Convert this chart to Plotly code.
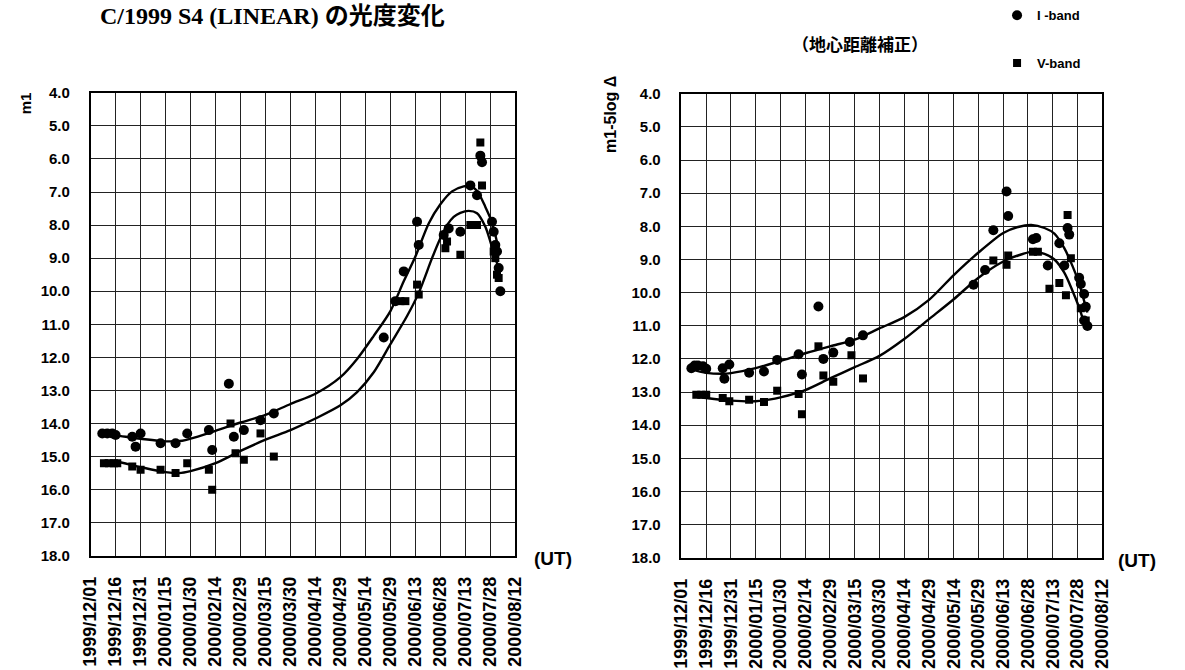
import plotly.graph_objects as go

W, H = 1185, 670

# ---------------- data ----------------
# Left panel: observed magnitude m1
left_i_dates = ["1999-12-08", "1999-12-11", "1999-12-14", "1999-12-16", "1999-12-26", "1999-12-28",
                "1999-12-31", "2000-01-12", "2000-01-21", "2000-01-28", "2000-02-10", "2000-02-12",
                "2000-02-22", "2000-02-25", "2000-03-02", "2000-03-12", "2000-03-20", "2000-05-25",
                "2000-06-01", "2000-06-06", "2000-06-14", "2000-06-15", "2000-06-30", "2000-07-03",
                "2000-07-10", "2000-07-16", "2000-07-20", "2000-07-22", "2000-07-23", "2000-07-29",
                "2000-07-30", "2000-07-31", "2000-08-01", "2000-08-02", "2000-08-03"]
left_i_mag = [14.3, 14.3, 14.3, 14.35, 14.4, 14.7,
              14.3, 14.6, 14.6, 14.3, 14.2, 14.8,
              12.8, 14.4, 14.2, 13.9, 13.7, 11.4,
              10.3, 9.4, 7.9, 8.6, 8.3, 8.1,
              8.2, 6.8, 7.1, 5.9, 6.1, 7.9,
              8.2, 8.6, 8.8, 9.3, 10.0]

left_v_dates = ["1999-12-09", "1999-12-12", "1999-12-15", "1999-12-17", "1999-12-26", "1999-12-31",
                "2000-01-12", "2000-01-21", "2000-01-28", "2000-02-10", "2000-02-12", "2000-02-23",
                "2000-02-26", "2000-03-02", "2000-03-12", "2000-03-20", "2000-06-04", "2000-06-07",
                "2000-06-14", "2000-06-15", "2000-06-30", "2000-07-01", "2000-07-02", "2000-07-10",
                "2000-07-16", "2000-07-18", "2000-07-20", "2000-07-22", "2000-07-23", "2000-07-30",
                "2000-07-31", "2000-08-01", "2000-08-02"]
left_v_mag = [15.2, 15.2, 15.2, 15.2, 15.3, 15.4,
              15.4, 15.5, 15.2, 15.4, 16.0, 14.0,
              14.9, 15.1, 14.3, 15.0, 10.3, 10.3,
              9.8, 10.1, 8.3, 8.7, 8.5, 8.9,
              8.0, 8.0, 8.0, 5.5, 6.8, 8.8,
              9.0, 9.5, 9.6]

left_i_fit_dates = ["1999-12-06", "1999-12-16", "1999-12-31", "2000-01-15", "2000-01-25", "2000-01-30",
                    "2000-02-14", "2000-02-29", "2000-03-15", "2000-03-30", "2000-04-14", "2000-04-29",
                    "2000-05-09", "2000-05-19", "2000-05-29", "2000-06-06", "2000-06-13", "2000-06-21",
                    "2000-06-28", "2000-07-05", "2000-07-12", "2000-07-16", "2000-07-20", "2000-07-25",
                    "2000-07-29", "2000-08-02"]
left_i_fit_mag = [14.3, 14.36, 14.46, 14.54, 14.52, 14.46,
                  14.22, 13.97, 13.74, 13.41, 13.1, 12.6,
                  12.05, 11.35, 10.6, 9.7, 8.95, 7.95,
                  7.37, 6.98, 6.83, 6.82, 6.96, 7.45,
                  7.92, 8.75]

left_v_fit_dates = ["1999-12-09", "1999-12-16", "1999-12-31", "2000-01-15", "2000-01-23", "2000-01-30",
                    "2000-02-14", "2000-02-29", "2000-03-15", "2000-03-30", "2000-04-14", "2000-04-29",
                    "2000-05-09", "2000-05-19", "2000-05-29", "2000-06-08", "2000-06-15", "2000-06-23",
                    "2000-06-28", "2000-07-02", "2000-07-06", "2000-07-10", "2000-07-15", "2000-07-20",
                    "2000-07-25", "2000-07-28", "2000-07-31", "2000-08-02"]
left_v_fit_mag = [15.13, 15.15, 15.32, 15.47, 15.5, 15.44,
                  15.2, 14.83, 14.49, 14.2, 13.85, 13.45,
                  13.05, 12.45, 11.6, 10.75, 10.05, 9.0,
                  8.4, 8.0, 7.75, 7.63, 7.57, 7.64,
                  8.05, 8.5, 9.0, 9.3]

# Right panel: distance-corrected magnitude m1 - 5 log Delta
right_i_dates = ["1999-12-07", "1999-12-09", "1999-12-11", "1999-12-14", "1999-12-16", "1999-12-26",
                 "1999-12-27", "1999-12-30", "2000-01-11", "2000-01-20", "2000-01-28", "2000-02-10",
                 "2000-02-12", "2000-02-22", "2000-02-25", "2000-03-02", "2000-03-12", "2000-03-20",
                 "2000-05-26", "2000-06-02", "2000-06-07", "2000-06-15", "2000-06-16", "2000-07-01",
                 "2000-07-03", "2000-07-10", "2000-07-17", "2000-07-20", "2000-07-22", "2000-07-23",
                 "2000-07-29", "2000-07-30", "2000-08-01", "2000-08-02", "2000-08-01", "2000-08-03"]
right_i_mag = [12.28, 12.2, 12.2, 12.22, 12.3, 12.28,
               12.6, 12.17, 12.42, 12.38, 12.03, 11.86,
               12.47, 10.42, 12.0, 11.81, 11.49, 11.29,
               9.76, 9.32, 8.12, 6.95, 7.69, 8.39,
               8.35, 9.18, 8.51, 9.18, 8.05, 8.25,
               9.55, 9.74, 10.04, 10.43, 10.84, 11.01]

right_v_dates = ["1999-12-10", "1999-12-13", "1999-12-16", "1999-12-26", "1999-12-30", "2000-01-11",
                 "2000-01-20", "2000-01-28", "2000-02-10", "2000-02-12", "2000-02-22", "2000-02-25",
                 "2000-03-02", "2000-03-13", "2000-03-20", "2000-06-07", "2000-06-15", "2000-06-16",
                 "2000-07-01", "2000-07-04", "2000-07-11", "2000-07-17", "2000-07-21", "2000-07-22",
                 "2000-07-24", "2000-07-30", "2000-08-02"]
right_v_mag = [13.08, 13.08, 13.08, 13.18, 13.28, 13.23,
               13.3, 12.96, 13.06, 13.67, 11.62, 12.5,
               12.69, 11.89, 12.59, 9.03, 9.16, 8.88,
               8.77, 8.77, 9.88, 9.71, 10.08, 7.66,
               8.96, 10.47, 10.84]

right_i_fit_dates = ["1999-12-06", "1999-12-16", "1999-12-26", "1999-12-31", "2000-01-15", "2000-01-30",
                     "2000-02-14", "2000-02-29", "2000-03-15", "2000-03-30", "2000-04-14", "2000-04-29",
                     "2000-05-14", "2000-05-29", "2000-06-13", "2000-06-22", "2000-06-30", "2000-07-08",
                     "2000-07-14", "2000-07-20", "2000-07-25", "2000-07-29", "2000-08-01", "2000-08-03"]
right_i_fit_mag = [12.3, 12.42, 12.45, 12.43, 12.28, 12.06,
                   11.83, 11.62, 11.42, 11.08, 10.74, 10.22,
                   9.47, 8.79, 8.2, 8.02, 7.96, 8.05,
                   8.22, 8.66, 9.2, 9.72, 10.25, 10.6]

right_v_fit_dates = ["1999-12-09", "1999-12-16", "1999-12-31", "2000-01-15", "2000-01-23", "2000-01-30",
                     "2000-02-14", "2000-02-29", "2000-03-15", "2000-03-30", "2000-04-14", "2000-04-29",
                     "2000-05-14", "2000-05-29", "2000-06-13", "2000-06-22", "2000-06-30", "2000-07-08",
                     "2000-07-14", "2000-07-20", "2000-07-25", "2000-07-29", "2000-08-01", "2000-08-03"]
right_v_fit_mag = [13.13, 13.18, 13.26, 13.28, 13.23, 13.16,
                   12.94, 12.59, 12.25, 11.91, 11.4, 10.8,
                   10.2, 9.55, 9.06, 8.88, 8.77, 8.83,
                   9.0, 9.4, 9.95, 10.45, 10.9, 11.1]

x_start, x_end = "1999-12-01", "2000-08-12"
y_top, y_bottom = 4, 18
tick_step_days = 15

title_text = "C/1999 S4 (LINEAR) の光度変化"
subtitle_text = "（地心距離補正）"
left_ylabel = "m1"
right_ylabel = "m1-5log Δ"
x_unit = "(UT)"
i_name = "I -band"
v_name = "V-band"

# ---------------- figure ----------------
fig = go.Figure()

def px_x(p):
    return p / W

def px_y(p):
    return 1 - p / H

ytick_font = dict(family="Liberation Sans, Arial, sans-serif", size=15, color="black", weight="bold")
xtick_font = dict(family="Liberation Sans, Arial, sans-serif", size=18, color="black", weight="bold")
grid_col = "#222222"

def add_panel(xa, ya, i_d, i_m, v_d, v_m, if_d, if_m, vf_d, vf_m, show_legend):
    fig.add_trace(go.Scatter(x=if_d, y=if_m, mode="lines", line=dict(color="black", width=2.4, shape="spline", smoothing=0.8),
                             xaxis=xa, yaxis=ya, showlegend=False, hoverinfo="skip"))
    fig.add_trace(go.Scatter(x=vf_d, y=vf_m, mode="lines", line=dict(color="black", width=2.4, shape="spline", smoothing=0.8),
                             xaxis=xa, yaxis=ya, showlegend=False, hoverinfo="skip"))
    fig.add_trace(go.Scatter(x=i_d, y=i_m, mode="markers", name=i_name, legendgroup="i",
                             marker=dict(symbol="circle", size=10, color="black"),
                             xaxis=xa, yaxis=ya, showlegend=show_legend))
    fig.add_trace(go.Scatter(x=v_d, y=v_m, mode="markers", name=v_name, legendgroup="v",
                             marker=dict(symbol="square", size=8, color="black"),
                             xaxis=xa, yaxis=ya, showlegend=show_legend))

add_panel("x", "y", left_i_dates, left_i_mag, left_v_dates, left_v_mag,
          left_i_fit_dates, left_i_fit_mag, left_v_fit_dates, left_v_fit_mag, False)
add_panel("x2", "y2", right_i_dates, right_i_mag, right_v_dates, right_v_mag,
          right_i_fit_dates, right_i_fit_mag, right_v_fit_dates, right_v_fit_mag, True)

xaxis_common = dict(
    type="date", range=[x_start, x_end], tickmode="linear", tick0=x_start,
    dtick=tick_step_days * 86400000, tickformat="%Y/%m/%d", tickangle=-90,
    showgrid=True, gridcolor=grid_col, gridwidth=1, showline=True, linecolor="black",
    linewidth=1.5, mirror=True, ticks="", tickfont=xtick_font, zeroline=False,
    ticklabelstandoff=12,
)
yaxis_common = dict(
    range=[y_bottom, y_top], tickmode="linear", tick0=y_top, dtick=1, tickformat=".1f",
    showgrid=True, gridcolor=grid_col, gridwidth=1, showline=True, linecolor="black",
    linewidth=1.5, mirror=True, ticks="", tickfont=ytick_font, zeroline=False,
    ticklabelstandoff=16,
)

fig.update_layout(
    width=W, height=H, margin=dict(l=0, r=0, t=0, b=0),
    paper_bgcolor="white", plot_bgcolor="white",
    xaxis=dict(domain=[px_x(82), px_x(514)], anchor="y", **xaxis_common),
    yaxis=dict(domain=[px_y(561), px_y(86)], anchor="x", **yaxis_common),
    xaxis2=dict(domain=[px_x(683), px_x(1111)], anchor="y2", **xaxis_common),
    yaxis2=dict(domain=[px_y(563), px_y(87)], anchor="x2", **yaxis_common),
    showlegend=True,
    legend=dict(x=px_x(1004), y=px_y(-9), xanchor="left", yanchor="top",
                font=dict(family="Liberation Sans, Arial, sans-serif", size=13, color="black", weight="bold"),
                tracegroupgap=28, itemwidth=30, bgcolor="rgba(0,0,0,0)"),
    font=dict(family="Liberation Sans, Arial, sans-serif", color="black"),
)

ann_font = dict(family="Liberation Sans, Arial, sans-serif", color="black", weight="bold")
fig.add_annotation(text=title_text, x=px_x(90), y=px_y(7), xref="paper", yref="paper",
                   xanchor="left", yanchor="middle", showarrow=False,
                   font=dict(family="Liberation Serif, Noto Sans CJK JP, serif", size=24, color="black", weight="bold"))
fig.add_annotation(text=subtitle_text, x=px_x(865), y=px_y(35), xref="paper", yref="paper",
                   xanchor="center", yanchor="middle", showarrow=False,
                   font=dict(family="Noto Sans CJK JP, sans-serif", size=17, color="black", weight="bold"))
fig.add_annotation(text=left_ylabel, x=px_x(16), y=px_y(97), xref="paper", yref="paper",
                   xanchor="center", yanchor="middle", showarrow=False, textangle=-90,
                   font=dict(size=15, **ann_font))
fig.add_annotation(text=right_ylabel, x=px_x(611), y=px_y(108), xref="paper", yref="paper",
                   xanchor="center", yanchor="middle", showarrow=False, textangle=-90,
                   font=dict(size=16, **ann_font))
fig.add_annotation(text=x_unit, x=px_x(552), y=px_y(564), xref="paper", yref="paper",
                   xanchor="center", yanchor="middle", showarrow=False,
                   font=dict(size=19, **ann_font))
fig.add_annotation(text=x_unit, x=px_x(1146), y=px_y(566), xref="paper", yref="paper",
                   xanchor="center", yanchor="middle", showarrow=False,
                   font=dict(size=19, **ann_font))

fig.write_html("out.html", config={"displayModeBar": False},
               post_script="document.body.style.margin='0';document.body.style.overflow='hidden';")
